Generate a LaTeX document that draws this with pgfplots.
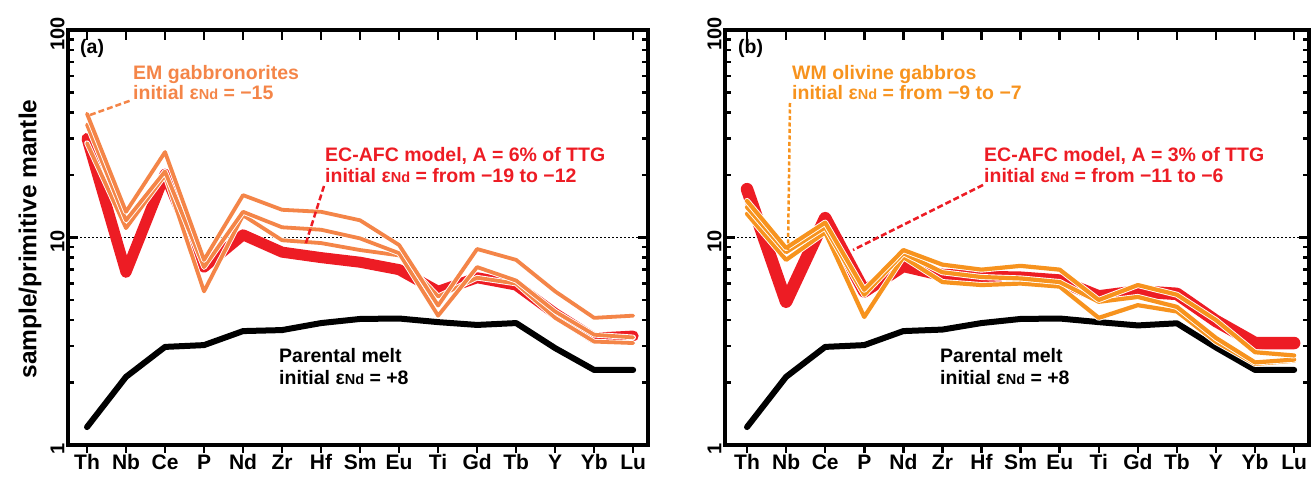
\documentclass[border=0pt]{standalone}
\usepackage{fontspec}
\setmainfont{Liberation Sans}
\usepackage{pgfplots}
\usepackage{pgfplotstable}
\pgfplotsset{compat=1.18}
\definecolor{redC}{RGB}{237,28,36}
\definecolor{orA}{RGB}{244,133,72}
\definecolor{orB}{RGB}{247,147,30}
\newcommand{\eNd}{ε{\fontsize{14.5}{16}\selectfont Nd}}
\newcommand{\ann}{\bfseries\fontsize{19.5}{22}\selectfont}

\pgfplotstableread{
x blk red o1 o2 o3
0 1.22 30.0 39.5 35.0 28.5
1 2.13 6.8 13.3 12.1 11.1
2 2.97 20.2 25.8 20.8 20.0
3 3.03 7.2 7.8 7.2 5.5
4 3.54 10.3 16.0 13.3 12.8
5 3.58 8.5 13.6 11.2 9.7
6 3.87 8.0 13.3 10.9 9.4
7 4.05 7.6 12.1 9.9 8.7
8 4.07 7.0 9.2 8.4 8.2
9 3.91 5.5 4.7 4.2 5.2
10 3.79 6.4 8.8 7.2 6.4
11 3.87 5.9 7.8 6.2 6.0
12 2.93 4.3 5.5 4.4 4.1
13 2.30 3.27 4.1 3.4 3.15
14 2.30 3.35 4.2 3.3 3.1
}\dataA

\pgfplotstableread{
x blk red o1 o2 o3
0 1.22 17.1 15.0 14.0 13.0
1 2.13 4.9 8.9 8.5 7.8
2 2.97 12.4 11.8 11.2 10.6
3 3.03 5.5 5.6 5.3 4.14
4 3.54 7.3 8.7 8.4 8.05
5 3.60 6.6 7.4 6.8 6.1
6 3.87 6.45 7.0 6.45 5.9
7 4.05 6.4 7.3 6.35 6.0
8 4.07 6.2 7.0 6.1 5.8
9 3.91 5.2 5.0 4.9 4.1
10 3.77 5.5 5.9 5.17 4.72
11 3.86 5.35 5.3 4.63 4.4
12 2.95 3.96 4.0 3.28 3.14
13 2.30 3.1 2.8 2.5 2.46
14 2.30 3.1 2.7 2.58 2.55
}\dataB

\tikzset{
  myblk/.style={black, line width=6pt, line cap=round, line join=round},
  myhalo/.style={white, line width=5.6pt, line cap=round, line join=round},
  myorl/.style={line width=3.8pt, line cap=round, line join=round},
  mydot/.style={black, line width=1.5pt, dash pattern=on 1.5pt off 2.5pt},
}

\begin{document}
\begin{tikzpicture}
\useasboundingbox (0,0) rectangle (1315pt,480pt);

% ---------- panel (a) ----------
\begin{axis}[at={(68pt,35pt)}, anchor=south west, scale only axis,
    width=580pt, height=415pt, xmin=-0.487, xmax=14.38,
    ymode=log, ymin=1, ymax=100,
    xtick={0,...,14},
    xticklabels={Th,Nb,Ce,P,Nd,Zr,Hf,Sm,Eu,Ti,Gd,Tb,Y,Yb,Lu},
    xtick pos=upper, xticklabel pos=lower,
    ytick={1,10,100}, yticklabels={1,10,100},
    minor ytick={2,3,4,5,6,7,8,9,20,30,40,50,60,70,80,90},
    ytick pos=both, yticklabel pos=left,
    tick align=inside,
    major tick length=10pt, minor tick length=6pt,
    tick style={black, line width=2.5pt},
    axis line style={line width=3.5pt},
    xticklabel style={font=\bfseries\fontsize{21}{24}\selectfont, text height=15pt, text depth=0pt, yshift=-6pt},
    yticklabel style={font=\bfseries\fontsize{20}{22}\selectfont, rotate=90, anchor=south, xshift=-4pt},
    clip=false]
\addplot[mydot] coordinates {(-0.487,10) (14.38,10)};
\addplot[myblk] table[x=x,y=blk]{\dataA};
\addplot[redC, line width=11pt, line cap=round, line join=round] table[x=x,y=red]{\dataA};
\addplot[myhalo] table[x=x,y=o3]{\dataA};
\addplot[myorl, orA] table[x=x,y=o3]{\dataA};
\addplot[myhalo] table[x=x,y=o2]{\dataA};
\addplot[myorl, orA] table[x=x,y=o2]{\dataA};
\addplot[myhalo] table[x=x,y=o1]{\dataA};
\addplot[myorl, orA] table[x=x,y=o1]{\dataA};
\end{axis}
\begin{axis}[at={(68pt,35pt)}, anchor=south west, scale only axis,
    width=580pt, height=415pt, xmin=-0.487, xmax=14.38, ymin=0, ymax=1,
    axis x line*=bottom, axis y line=none,
    xtick={0,...,14}, xticklabels={}, ytick=\empty,
    tick align=outside, major tick length=8pt,
    tick style={black, line width=2.5pt},
    axis line style={draw=none}]
\addplot[draw=none] coordinates {(0,0.5)};
\end{axis}

% ---------- panel (b) ----------
\begin{axis}[at={(725pt,35pt)}, anchor=south west, scale only axis,
    width=584pt, height=415pt, xmin=-0.563, xmax=14.38,
    ymode=log, ymin=1, ymax=100,
    xtick={0,...,14},
    xticklabels={Th,Nb,Ce,P,Nd,Zr,Hf,Sm,Eu,Ti,Gd,Tb,Y,Yb,Lu},
    xtick pos=upper, xticklabel pos=lower,
    ytick={1,10,100}, yticklabels={1,10,100},
    minor ytick={2,3,4,5,6,7,8,9,20,30,40,50,60,70,80,90},
    ytick pos=both, yticklabel pos=left,
    tick align=inside,
    major tick length=10pt, minor tick length=6pt,
    tick style={black, line width=2.5pt},
    axis line style={line width=3.5pt},
    xticklabel style={font=\bfseries\fontsize{21}{24}\selectfont, text height=15pt, text depth=0pt, yshift=-6pt},
    yticklabel style={font=\bfseries\fontsize{20}{22}\selectfont, rotate=90, anchor=south, xshift=-4pt},
    clip=false]
\addplot[mydot] coordinates {(-0.563,10) (14.38,10)};
\addplot[myblk] table[x=x,y=blk]{\dataB};
\addplot[redC, line width=12.5pt, line cap=round, line join=round] table[x=x,y=red]{\dataB};
\addplot[myhalo, line width=6pt] table[x=x,y=o3]{\dataB};
\addplot[myorl, orB, line width=4.2pt] table[x=x,y=o3]{\dataB};
\addplot[myhalo, line width=6pt] table[x=x,y=o2]{\dataB};
\addplot[myorl, orB, line width=4.2pt] table[x=x,y=o2]{\dataB};
\addplot[myhalo, line width=6pt] table[x=x,y=o1]{\dataB};
\addplot[myorl, orB, line width=4.2pt] table[x=x,y=o1]{\dataB};
\end{axis}
\begin{axis}[at={(725pt,35pt)}, anchor=south west, scale only axis,
    width=584pt, height=415pt, xmin=-0.563, xmax=14.38, ymin=0, ymax=1,
    axis x line*=bottom, axis y line=none,
    xtick={0,...,14}, xticklabels={}, ytick=\empty,
    tick align=outside, major tick length=8pt,
    tick style={black, line width=2.5pt},
    axis line style={draw=none}]
\addplot[draw=none] coordinates {(0,0.5)};
\end{axis}

% ---------- labels ----------
\node[rotate=90, font=\bfseries\fontsize{24.5}{28}\selectfont] at (30pt,241pt) {sample/primitive mantle};

\begin{scope}[every node/.style={anchor=base west, inner sep=0pt, font=\ann}]
\node at (80pt,426pt) {(a)};
\node at (738pt,426pt) {(b)};
\node[text=orA] at (133pt,400pt) {EM gabbronorites};
\node[text=orA] at (133pt,380pt) {initial \eNd{} = −15};
\node[text=redC] at (325pt,318pt) {EC-AFC model, A = 6\% of TTG};
\node[text=redC] at (325pt,297pt) {initial \eNd{} = from −19 to −12};
\node at (279pt,118pt) {Parental melt};
\node at (279pt,96pt) {initial \eNd{} = +8};
\node[text=orB] at (792pt,400pt) {WM olivine gabbros};
\node[text=orB] at (792pt,380pt) {initial \eNd{} = from −9 to −7};
\node[text=redC] at (984pt,318pt) {EC-AFC model, A = 3\% of TTG};
\node[text=redC] at (984pt,297pt) {initial \eNd{} = from −11 to −6};
\node at (940pt,118pt) {Parental melt};
\node at (940pt,96pt) {initial \eNd{} = +8};
\end{scope}

\draw[orA, line width=2.5pt, dash pattern=on 6pt off 3pt] (90pt,365pt) -- (132pt,380pt);
\draw[redC, line width=2.5pt, dash pattern=on 6pt off 3pt] (324pt,294pt) -- (305pt,234pt);
\draw[orB, line width=2.5pt, dash pattern=on 4pt off 2.5pt] (790pt,377pt) -- (788pt,230pt);
\draw[redC, line width=2.5pt, dash pattern=on 6pt off 3pt] (983pt,295pt) -- (853pt,230pt);
\end{tikzpicture}
\end{document}
